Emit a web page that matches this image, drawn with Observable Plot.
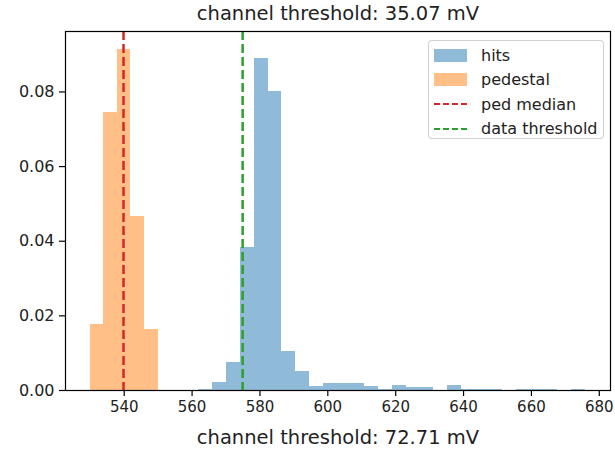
<!DOCTYPE html>
<html>
<head>
<meta charset="utf-8">
<script src="https://cdn.jsdelivr.net/npm/d3@7"></script>
<script src="https://cdn.jsdelivr.net/npm/@observablehq/plot@0.6"></script>
<style>
  body { margin: 0; background: #fff; font-family: "DejaVu Sans", sans-serif; }
  #wrap { position: relative; width: 615px; height: 449px; }
  #title { height: 28px; line-height: 28px; box-sizing: border-box; padding-left: 65px; padding-right: 4px;
           text-align: center; font-size: 19.5px; color: #222; white-space: nowrap; }
  #legend { position: absolute; left: 428px; top: 40px; width: 176px; height: 99px; box-sizing: border-box;
            border: 1px solid rgba(204,204,204,0.9); border-radius: 4px; background: rgba(255,255,255,0.8); }
  .entry { position: absolute; left: 0; height: 20px; display: flex; align-items: center; font-size: 16px; color: #222; white-space: nowrap; }
  .sw { width: 33px; height: 13px; margin-left: 5px; margin-right: 14px; }
  .dash { width: 33px; height: 0; margin-left: 5px; margin-right: 14px; border-top: 2.5px dashed; }
</style>
</head>
<body>
<div id="wrap">
  <div id="title"></div>
  <div id="chart"></div>
  <div id="legend"></div>
</div>
<script>
const titleText = "channel threshold: 35.07 mV";
const xLabelText = "channel threshold: 72.71 mV";

// hits histogram (density), bin edges and heights
const hitsEdges = [562.0, 566.1, 570.1, 574.2, 578.3, 582.4, 586.4, 590.5, 594.6, 598.6,
                   602.7, 606.8, 610.8, 614.9, 619.0, 623.1, 627.1, 631.2, 635.3, 639.3,
                   643.4, 647.5, 651.5, 655.6, 659.7, 663.8, 667.8, 671.9, 676.0];
const hitsDensity = [0.0003, 0.0022, 0.0074, 0.0384, 0.0889, 0.0800, 0.0105, 0.0052, 0.0012, 0.0018,
                     0.0018, 0.0018, 0.0011, 0.0003, 0.0013, 0.0007, 0.0007, 0.0000, 0.0013, 0.0004,
                     0.0004, 0.0004, 0.0000, 0.0004, 0.0004, 0.0004, 0.0000, 0.0004];

// pedestal histogram (density)
const pedEdges = [530, 534, 538, 542, 546, 550];
const pedDensity = [0.0177, 0.0746, 0.0913, 0.0467, 0.0163];

const pedMedian = 539.8;
const dataThreshold = 574.9;

const xTicks = [540, 560, 580, 600, 620, 640, 660, 680];
const yTicks = [0, 0.02, 0.04, 0.06, 0.08];

const seriesNames = ["hits", "pedestal", "ped median", "data threshold"];
const colors = { hits: "#1f77b4", pedestal: "#ff7f0e", "ped median": "#d62728", "data threshold": "#2ca02c" };

const toBins = (edges, vals) => vals.map((v, i) => ({ x1: edges[i], x2: edges[i + 1], y: v }));
const hits = toBins(hitsEdges, hitsDensity);
const ped = toBins(pedEdges, pedDensity);

document.getElementById("title").textContent = titleText;

const chart = Plot.plot({
  width: 615,
  height: 421,
  marginTop: 3,
  marginBottom: 59,
  marginLeft: 65,
  marginRight: 5,
  style: { fontFamily: "DejaVu Sans, sans-serif", fontSize: "16px", color: "#222", background: "white" },
  x: { domain: [522.7, 683.3] },
  y: { domain: [0, 0.0962] },
  marks: [
    Plot.rectY(hits, { x1: "x1", x2: "x2", y: "y", fill: colors.hits, fillOpacity: 0.5, shapeRendering: "crispEdges" }),
    Plot.rectY(ped, { x1: "x1", x2: "x2", y: "y", fill: colors.pedestal, fillOpacity: 0.5, shapeRendering: "crispEdges" }),
    Plot.ruleX([pedMedian], { stroke: colors["ped median"], strokeWidth: 2.5, strokeDasharray: "9,4" }),
    Plot.ruleX([dataThreshold], { stroke: colors["data threshold"], strokeWidth: 2.5, strokeDasharray: "9,4" }),
    Plot.frame({ stroke: "black", strokeWidth: 1.2 }),
    Plot.axisX({ ticks: xTicks, tickSize: 6, tickPadding: 5, fontSize: 15, tickFormat: d => String(d), label: null, stroke: "black", strokeWidth: 1.2 }),
    Plot.axisY({ ticks: yTicks, tickSize: 6, tickPadding: 5, tickFormat: d3.format(".2f"), label: null, stroke: "black", strokeWidth: 1.2 }),
    Plot.text([xLabelText], { frameAnchor: "bottom", dy: 47, fontSize: 19.5, fill: "#222", lineAnchor: "middle" })
  ]
});
document.getElementById("chart").appendChild(chart);

// legend
const legend = document.getElementById("legend");
seriesNames.forEach((name, i) => {
  const e = document.createElement("div");
  e.className = "entry";
  e.style.top = (4 + i * 24.5) + "px";
  const s = document.createElement("div");
  if (i < 2) {
    s.className = "sw";
    s.style.background = colors[name];
    s.style.opacity = 0.5;
  } else {
    s.className = "dash";
    s.style.borderTopColor = colors[name];
  }
  const t = document.createElement("span");
  t.textContent = name;
  e.appendChild(s);
  e.appendChild(t);
  legend.appendChild(e);
});
</script>
</body>
</html>
